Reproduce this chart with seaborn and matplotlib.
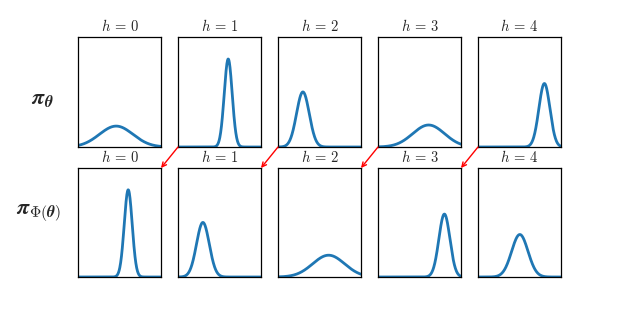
import numpy as np
import pandas as pd
import matplotlib
matplotlib.use("Agg")
import matplotlib.pyplot as plt
from matplotlib.patches import ConnectionPatch
import seaborn as sns

sns.set_style("white")
plt.rcParams["mathtext.fontset"] = "cm"

# Gaussian parameters (x in [0, 1])
steps = ["0", "1", "2", "3", "4"]
top_means = [0.46, 0.605, 0.30, 0.61, 0.80]
top_sigmas = [0.202, 0.048, 0.0767, 0.192, 0.0665]
bottom_means = [0.605, 0.30, 0.61, 0.80, 0.504]
bottom_sigmas = [0.048, 0.0767, 0.192, 0.0665, 0.0985]
y_max = 10.39
row_labels = [r"$\boldsymbol{\pi}_{\boldsymbol{\theta}}$",
              r"$\boldsymbol{\pi}_{\Phi(\boldsymbol{\theta})}$"]

fig = plt.figure(figsize=(6.23, 3.12), dpi=100)
W, H = 623.0, 312.0
xs = np.linspace(0, 1, 400)

def density(mu, s):
    return np.exp(-0.5 * ((xs - mu) / s) ** 2) / (s * np.sqrt(2 * np.pi))

rows = [(37, 110, top_means, top_sigmas), (168, 109, bottom_means, bottom_sigmas)]
axes = []
for (ytop, hgt, means, sigmas) in rows:
    row_axes = []
    for j, (mu, s) in enumerate(zip(means, sigmas)):
        left = 78 + 100 * j
        ax = fig.add_axes([left / W, 1 - (ytop + hgt) / H, 83 / W, hgt / H])
        df = pd.DataFrame({"x": xs, "y": density(mu, s)})
        sns.lineplot(data=df, x="x", y="y", ax=ax, color="#1f77b4", linewidth=2)
        ax.set_xlim(0, 1)
        ax.set_ylim(0, y_max)
        ax.set_xticks([])
        ax.set_yticks([])
        ax.set_xlabel("")
        ax.set_ylabel("")
        for sp in ax.spines.values():
            sp.set_color("black")
            sp.set_linewidth(0.9)
        ax.set_title(r"$h\,=\,%s$" % steps[j], fontsize=10.5, pad=4)
        row_axes.append(ax)
    axes.append(row_axes)

fig.text(43 / W, 1 - 100 / H, row_labels[0], fontsize=16, ha="center", va="center")
fig.text(39 / W, 1 - 213 / H, row_labels[1], fontsize=16, ha="center", va="center")

for j in range(1, 5):
    con = ConnectionPatch(xyA=(0, 0), coordsA=axes[0][j].transAxes,
                          xyB=(1, 1), coordsB=axes[1][j - 1].transAxes,
                          arrowstyle="->", color="red", lw=1,
                          shrinkA=0, shrinkB=0, mutation_scale=8)
    fig.add_artist(con)

fig.savefig("out.png", dpi=100)
